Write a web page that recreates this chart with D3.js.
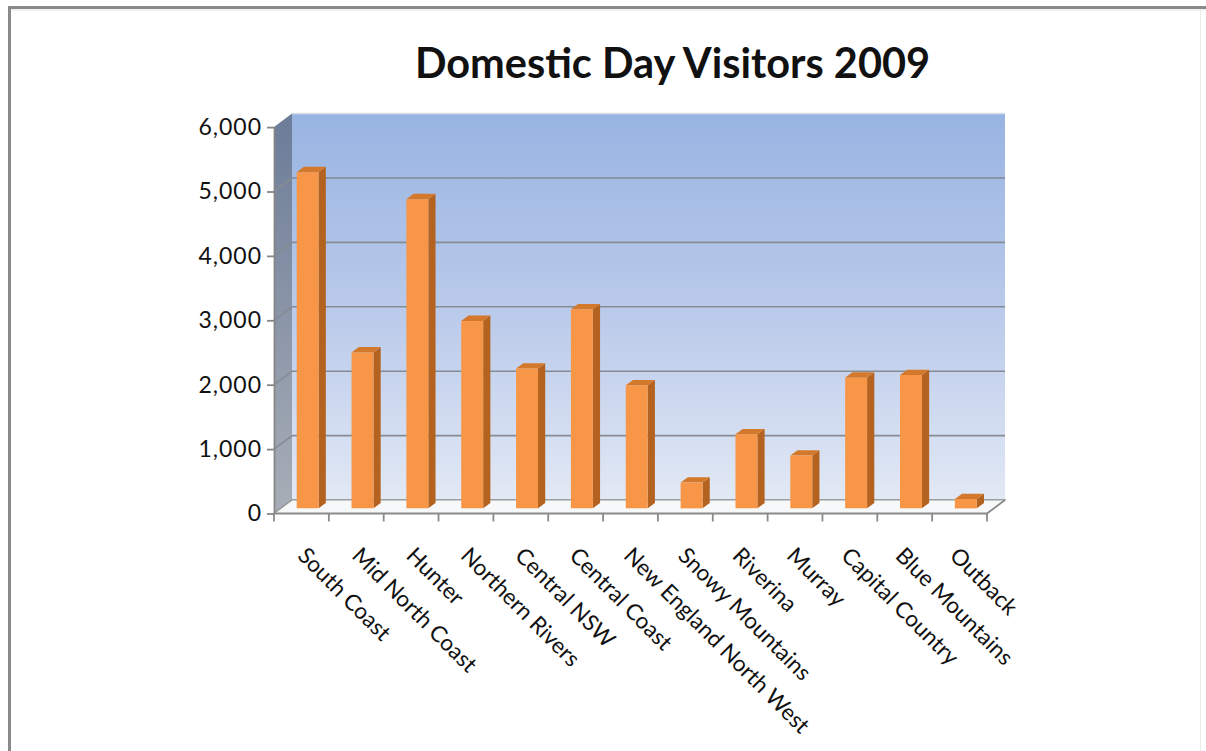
<!DOCTYPE html>
<html>
<head>
<meta charset="utf-8">
<script src="https://cdn.jsdelivr.net/npm/d3@7"></script>
<style>
  html, body { margin: 0; padding: 0; background: #ffffff; }
  svg { display: block; }
  text { font-family: Lato, "Open Sans", sans-serif; fill: #111; }
  .y-axis text { font-size: 23px; letter-spacing: 1px; }
</style>
</head>
<body>
<svg id="chart" width="1206" height="751"></svg>
<script>
// Domestic day visitors by NSW tourism region, 2009 ('000)
const regions = [
  "South Coast", "Mid North Coast", "Hunter", "Northern Rivers", "Central NSW",
  "Central Coast", "New England North West", "Snowy Mountains", "Riverina",
  "Murray", "Capital Country", "Blue Mountains", "Outback"
];
const visitors = [5220, 2420, 4800, 2910, 2170, 3090, 1910, 400, 1150, 820, 2030, 2070, 145];
const yTickValues = [0, 1000, 2000, 3000, 4000, 5000, 6000];
const chartTitle = "Domestic Day Visitors 2009";

const svg = d3.select("#chart");
const W = 1206, H = 751;

// Front plane of the 3-D box and its depth vector
const front = { left: 274, right: 987, bottom: 513.5, top: 127.1 };
const depth = { dx: 18, dy: -13.5 };
const barT0 = 0.38, barT1 = 0.78;   // bar front / back as a fraction of box depth

const x = d3.scaleBand().domain(regions).range([front.left, front.right]).padding(0);
const y = d3.scaleLinear().domain([0, 6000]).range([front.bottom, front.top]);

// project a point on the front plane back by depth fraction t
const P = (px, py, t) => [px + depth.dx * t, py + depth.dy * t];
const poly = pts => pts.map(p => p.join(",")).join(" ");

// ---------- frame ----------
svg.append("rect").attr("x", 0).attr("y", 0).attr("width", W).attr("height", H).attr("fill", "#fff");
svg.append("line").attr("x1", 8).attr("x2", W).attr("y1", 7.5).attr("y2", 7.5)
  .attr("stroke", "#8a8a8a").attr("stroke-width", 3);
svg.append("line").attr("x1", 9.5).attr("x2", 9.5).attr("y1", 6).attr("y2", H)
  .attr("stroke", "#8a8a8a").attr("stroke-width", 3);
svg.append("line").attr("x1", 11.5).attr("x2", W).attr("y1", 10).attr("y2", 10)
  .attr("stroke", "#e4e4e4").attr("stroke-width", 1);
svg.append("line").attr("x1", 1200.5).attr("x2", 1200.5).attr("y1", 9).attr("y2", H)
  .attr("stroke", "#ececec").attr("stroke-width", 1);

// ---------- gradients ----------
const defs = svg.append("defs");
const gBack = defs.append("linearGradient").attr("id", "backWall")
  .attr("x1", 0).attr("y1", 0).attr("x2", 0).attr("y2", 1);
gBack.append("stop").attr("offset", "0%").attr("stop-color", "#98b4e2");
gBack.append("stop").attr("offset", "55%").attr("stop-color", "#bdcceb");
gBack.append("stop").attr("offset", "100%").attr("stop-color", "#e2e9f5");
const gSide = defs.append("linearGradient").attr("id", "sideWall")
  .attr("x1", 0).attr("y1", 0).attr("x2", 0).attr("y2", 1);
gSide.append("stop").attr("offset", "0%").attr("stop-color", "#6c7c98");
gSide.append("stop").attr("offset", "100%").attr("stop-color", "#a8aeb7");

// ---------- walls ----------
const backTL = P(front.left, y(6000), 1), backBR = P(front.right, y(0), 1);
svg.append("rect")
  .attr("x", backTL[0]).attr("y", backTL[1])
  .attr("width", backBR[0] - backTL[0]).attr("height", backBR[1] - backTL[1])
  .attr("fill", "url(#backWall)");
svg.append("line")
  .attr("x1", backTL[0]).attr("x2", backBR[0]).attr("y1", backTL[1]).attr("y2", backTL[1])
  .attr("stroke", "#d9dfe8").attr("stroke-width", 1.5);

svg.append("polygon")
  .attr("points", poly([
    [front.left, y(6000)], P(front.left, y(6000), 1),
    P(front.left, y(0), 1), [front.left, y(0)]
  ]))
  .attr("fill", "url(#sideWall)");

// gridlines: along the back wall and diagonally across the side wall
const grid = svg.append("g").attr("stroke", "#868b94").attr("stroke-width", 1.6).attr("fill", "none");
grid.selectAll("polyline").data(yTickValues.filter(v => v < 6000)).join("polyline")
  .attr("points", v => poly([[front.left, y(v)], P(front.left, y(v), 1), P(front.right, y(v), 1)]));

// ---------- floor ----------
svg.append("polygon")
  .attr("points", poly([
    [front.left, y(0)], [front.right, y(0)], P(front.right, y(0), 1), P(front.left, y(0), 1)
  ]))
  .attr("fill", "#f7f8f9").attr("stroke", "#9a9a9a").attr("stroke-width", 1.2);

// ---------- bars ----------
const bw = x.bandwidth() / 2.5;
const bars = svg.append("g").selectAll("g").data(regions).join("g");
bars.each(function (r, i) {
  const g = d3.select(this);
  const v = visitors[i];
  const x0 = x(r) + (x.bandwidth() - bw) / 2 - 0.6;
  const x1 = x0 + bw;
  const fBL = P(x0, y(0), barT0), fBR = P(x1, y(0), barT0);
  const fTL = P(x0, y(v), barT0), fTR = P(x1, y(v), barT0);
  const bBR = P(x1, y(0), barT1), bTR = P(x1, y(v), barT1), bTL = P(x0, y(v), barT1);
  g.append("polygon").attr("points", poly([fBR, bBR, bTR, fTR])).attr("fill", "#b3621f");
  g.append("polygon").attr("points", poly([fTL, fTR, bTR, bTL])).attr("fill", "#d4782b");
  g.append("polygon").attr("points", poly([fBL, fBR, fTR, fTL])).attr("fill", "#f79646");
});

// ---------- axes ----------
const yAxis = d3.axisLeft(y).tickValues(yTickValues).tickSize(7).tickSizeOuter(0)
  .tickPadding(5).tickFormat(d3.format(","));
const yAxisG = svg.append("g").attr("class", "y-axis")
  .attr("transform", `translate(${front.left},0)`).call(yAxis)
  .attr("font-size", 23).attr("font-family", "Lato, sans-serif");
yAxisG.selectAll("path, line").attr("stroke", "#868686").attr("stroke-width", 1.8);
yAxisG.selectAll("text").attr("fill", "#111").attr("font-size", 23);

const axisX = svg.append("g");
axisX.append("line").attr("x1", front.left).attr("x2", front.right)
  .attr("y1", y(0)).attr("y2", y(0)).attr("stroke", "#8a8a8a").attr("stroke-width", 2);
axisX.append("line").attr("x1", front.right).attr("y1", y(0))
  .attr("x2", P(front.right, y(0), 1)[0]).attr("y2", P(front.right, y(0), 1)[1])
  .attr("stroke", "#8a8a8a").attr("stroke-width", 1.6);
const boundaries = regions.map(r => x(r)).concat([front.right]);
axisX.selectAll("line.tick").data(boundaries).join("line").attr("class", "tick")
  .attr("x1", d => d).attr("x2", d => d).attr("y1", y(0)).attr("y2", y(0) + 8)
  .attr("stroke", "#8a8a8a").attr("stroke-width", 1.8);

svg.append("g").selectAll("text").data(regions).join("text")
  .attr("transform", (r, i) => `translate(${x(r) + x.bandwidth() / 2 - 5 - i * 0.5},557) rotate(45)`)
  .attr("text-anchor", "start")
  .style("font-size", "22.5px")
  .text(r => r);

// ---------- title ----------
svg.append("text")
  .attr("x", 672.5).attr("y", 78).attr("text-anchor", "middle")
  .style("font-weight", "bold").style("font-size", "41.5px")
  .text(chartTitle);
</script>
</body>
</html>
